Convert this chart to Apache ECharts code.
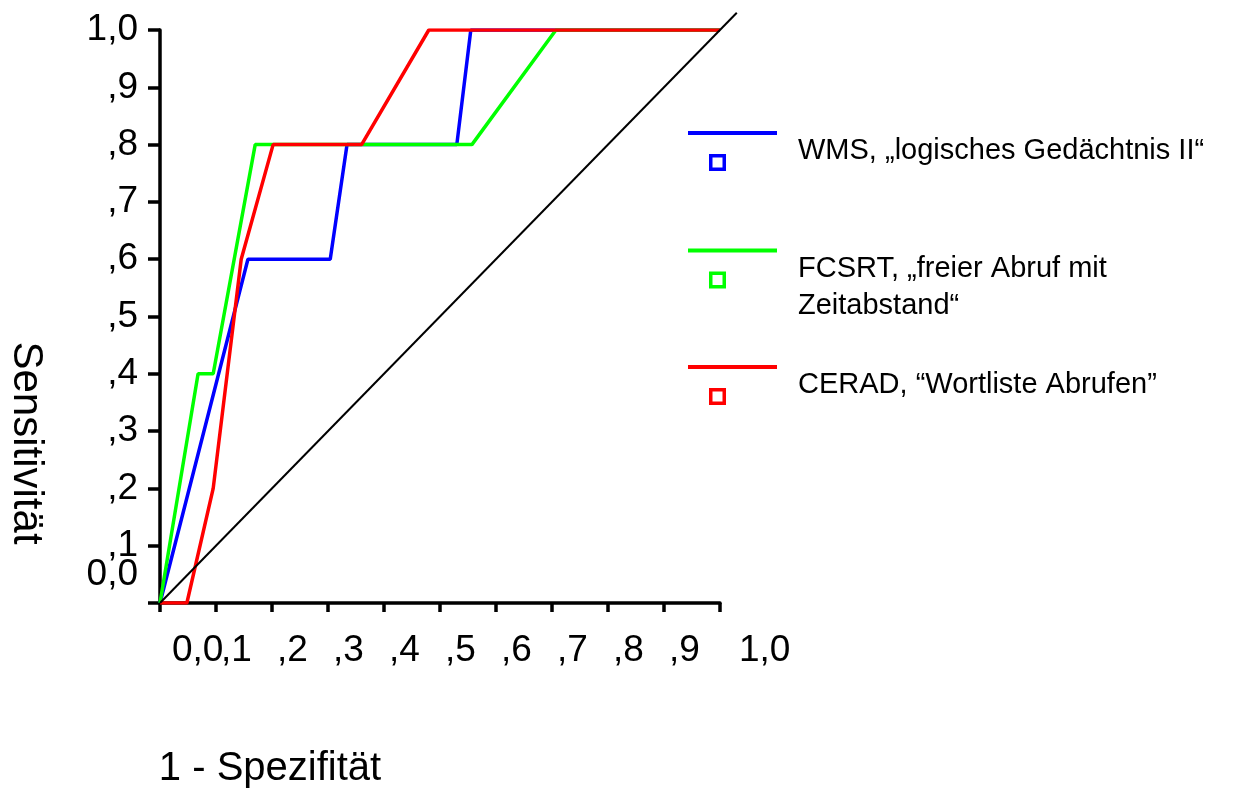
<!DOCTYPE html>
<html>
<head>
<meta charset="utf-8">
<script src="https://cdn.jsdelivr.net/npm/echarts@6/dist/echarts.min.js"></script>
<style>
	html, body { margin: 0; padding: 0; background: #fff; }
	#chart { width: 1247px; height: 796px; }
</style>
</head>
<body>
<div id="chart"></div>
<script>
// ROC-Kurven, Werte
const seriesNames = ['WMS, „logisches Gedächtnis II“', 'FCSRT, „freier Abruf mit\nZeitabstand“', 'CERAD, “Wortliste Abrufen”'];
const seriesColors = ['#0000ff', '#00ff00', '#ff0000'];

const wmsX = [0, 0.157, 0.304, 0.334, 0.530, 0.555, 1.0];
const wmsY = [0, 0.6, 0.6, 0.8, 0.8, 1.0, 1.0];
const fcsrtX = [0, 0.068, 0.095, 0.170, 0.557, 0.707, 1.0];
const fcsrtY = [0, 0.4, 0.4, 0.8, 0.8, 1.0, 1.0];
const ceradX = [0, 0.048, 0.095, 0.145, 0.202, 0.360, 0.480, 1.0];
const ceradY = [0, 0, 0.2, 0.6, 0.8, 0.8, 1.0, 1.0];
// Bezugslinie, ragt etwas über 1,0 hinaus
const diagX = [0, 1.03];
const diagY = [0, 1.03];
const diagMax = 1.03;

const xTickLabels = ['0,0', ',1', ',2', ',3', ',4', ',5', ',6', ',7', ',8', ',9', '1,0'];
const yTickLabels = ['0,0', ',1', ',2', ',3', ',4', ',5', ',6', ',7', ',8', ',9', '1,0'];

const font = '"Liberation Sans", Arial, sans-serif';
const tickFontSize = 37;

// Plotfläche in Pixeln
const plotLeft = 160, plotTop = 30, plotW = 560, plotH = 573;
const W = 1247, H = 796;

function pairs(xs, ys) {
	let out = [];
	for (let i = 0; i < xs.length; i++) out.push([xs[i], ys[i]]);
	return out;
}

// Legendensymbol: Linie oben, leeres Quadrat darunter
const legendIcon = 'path://M0,0H89V4H0Z M21,23H38V40H21Z M24.5,26.5V36.5H34.5V26.5Z';

function makeLegend(name, top, extraLine) {
	return {
		data: [name],
		left: 688,
		top: top,
		padding: 0,
		icon: legendIcon,
		itemWidth: 89,
		itemHeight: 40,
		itemStyle: { borderWidth: 0 },
		selectedMode: false,
		formatter: function(n) {
			return extraLine ? '\n' + n : n;
		},
		textStyle: {
			fontFamily: font,
			fontSize: 29,
			lineHeight: 37,
			color: '#000',
			padding: [0, 0, 0, 16]
		}
	};
}

const hiddenParts = {
	axisLine: { show: false },
	axisTick: { show: false },
	splitLine: { show: false }
};

let chart = echarts.init(document.getElementById('chart'));
let option = {
	backgroundColor: '#fff',
	animation: false,
	grid: [
		{
			left: plotLeft,
			top: plotTop,
			width: plotW,
			height: plotH,
			outerBoundsMode: 'none'
		},
		{
			// Hilfsgitter für die Diagonale
			left: plotLeft,
			top: plotTop + plotH - plotH * diagMax,
			width: plotW * diagMax,
			height: plotH * diagMax,
			outerBoundsMode: 'none'
		}
	],
	legend: [
		makeLegend(seriesNames[0], 131, false),
		makeLegend(seriesNames[1], 213, true),
		makeLegend(seriesNames[2], 365, false)
	],
	xAxis: [
		{
			type: 'value',
			gridIndex: 0,
			position: 'bottom',
			min: 0,
			max: 1,
			interval: 0.1,
			name: '1 - Spezifität',
			nameLocation: 'middle',
			nameGap: 146,
			nameTextStyle: {
				fontFamily: font,
				fontSize: 40,
				color: '#000',
				padding: [0, 340, 0, 0]
			},
			axisLine: { lineStyle: { color: '#000', width: 3.5 } },
			axisTick: { length: 9, lineStyle: { color: '#000', width: 3.5 } },
			splitLine: { show: false },
			axisLabel: {
				margin: 29,
				align: 'left',
				showMaxLabel: true,
				color: '#000',
				fontFamily: font,
				fontSize: tickFontSize,
				formatter: function(v) {
					let idx = Math.round(v * 10);
					if (idx === 0) return '';
					if (idx === 10) return '{c|' + xTickLabels[idx] + '}';
					return '{b|' + xTickLabels[idx] + '}';
				},
				rich: {
					b: { fontFamily: font, fontSize: tickFontSize, color: '#000', padding: [0, 0, 0, 5] },
					c: { fontFamily: font, fontSize: tickFontSize, color: '#000', padding: [0, 0, 0, 19] }
				}
			}
		},
		{
			// nur die Beschriftung "0,0"
			type: 'value',
			gridIndex: 0,
			position: 'bottom',
			offset: 0,
			min: 0,
			max: 1,
			interval: 1,
			...hiddenParts,
			axisLabel: {
				margin: 29,
				align: 'left',
				color: '#000',
				fontFamily: font,
				fontSize: tickFontSize,
				padding: [0, 0, 0, 12],
				formatter: function(v) {
					return v === 0 ? xTickLabels[0] : '';
				}
			}
		},
		{
			type: 'value',
			gridIndex: 1,
			min: 0,
			max: diagMax,
			show: false
		}
	],
	yAxis: [
		{
			type: 'value',
			gridIndex: 0,
			position: 'left',
			min: 0,
			max: 1,
			interval: 0.1,
			name: 'Sensitivität',
			nameLocation: 'middle',
			nameRotate: -90,
			nameGap: 113,
			nameTextStyle: {
				fontFamily: font,
				fontSize: 42,
				color: '#000',
				padding: [0, 0, 0, 253]
			},
			axisLine: { lineStyle: { color: '#000', width: 3.5 } },
			axisTick: { length: 12, lineStyle: { color: '#000', width: 3.5 } },
			splitLine: { show: false },
			axisLabel: {
				margin: 22,
				showMaxLabel: true,
				color: '#000',
				fontFamily: font,
				fontSize: tickFontSize,
				formatter: function(v) {
					let idx = Math.round(v * 10);
					return idx === 0 ? '' : yTickLabels[idx];
				}
			}
		},
		{
			// nur die Beschriftung "0,0", leicht nach oben versetzt
			type: 'value',
			gridIndex: 0,
			position: 'left',
			offset: 0,
			min: 0,
			max: 1,
			interval: 1,
			...hiddenParts,
			axisLabel: {
				margin: 22,
				color: '#000',
				fontFamily: font,
				fontSize: tickFontSize,
				verticalAlign: 'bottom',
				lineHeight: 56,
				formatter: function(v) {
					return v === 0 ? yTickLabels[0] : '';
				}
			}
		},
		{
			type: 'value',
			gridIndex: 1,
			min: 0,
			max: diagMax,
			show: false
		}
	],
	series: [
		{
			name: seriesNames[0],
			type: 'line',
			data: pairs(wmsX, wmsY),
			symbol: 'none',
			color: seriesColors[0],
			lineStyle: { width: 3.5, color: seriesColors[0] }
		},
		{
			name: seriesNames[1],
			type: 'line',
			data: pairs(fcsrtX, fcsrtY),
			symbol: 'none',
			color: seriesColors[1],
			lineStyle: { width: 3.5, color: seriesColors[1] }
		},
		{
			name: seriesNames[2],
			type: 'line',
			data: pairs(ceradX, ceradY),
			symbol: 'none',
			color: seriesColors[2],
			lineStyle: { width: 3.5, color: seriesColors[2] }
		},
		{
			name: 'Bezugslinie',
			type: 'line',
			xAxisIndex: 2,
			yAxisIndex: 2,
			data: pairs(diagX, diagY),
			symbol: 'none',
			silent: true,
			z: 3,
			lineStyle: { width: 2, color: '#000' }
		}
	]
};
chart.setOption(option);
</script>
</body>
</html>
